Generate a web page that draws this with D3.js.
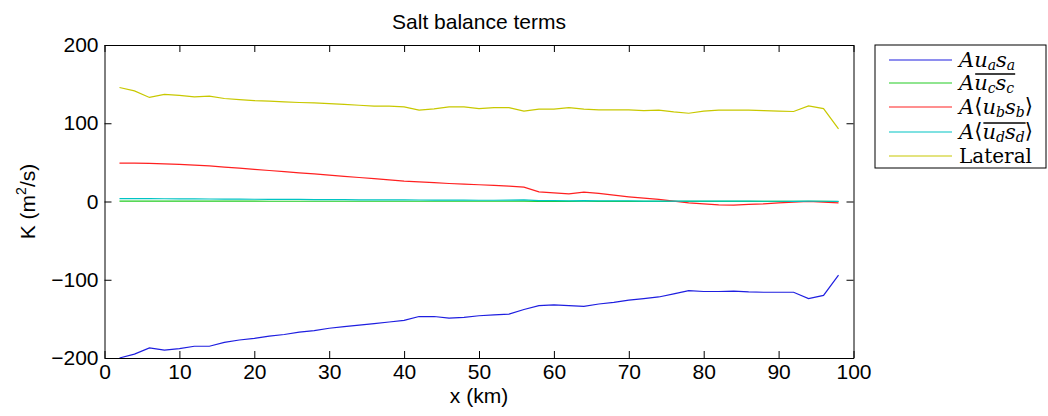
<!DOCTYPE html>
<html>
<head>
<meta charset="utf-8">
<script src="https://cdn.jsdelivr.net/npm/d3@7"></script>
<style>
  body { margin: 0; background: #fff; }
  svg { display: block; font-family: "Liberation Sans", Arial, sans-serif; }
</style>
</head>
<body>
<div id="chart"></div>
<script>
// x positions along the estuary (km)
const xKm = [2, 4, 6, 8, 10, 12, 14, 16, 18, 20, 22, 24, 26, 28, 30, 32, 34, 36, 38, 40,
  42, 44, 46, 48, 50, 52, 54, 56, 58, 60, 62, 64, 66, 68, 70, 72, 74, 76, 78, 80,
  82, 84, 86, 88, 90, 92, 94, 96, 98];

const uaSa = [-200, -195, -187, -190, -188, -185, -185, -180, -177, -175, -172, -170, -167, -165, -162, -160, -158, -156, -154, -152,
  -147, -147, -149, -148, -146, -145, -144, -138, -133, -132, -133, -134, -131, -129, -126, -124, -122, -118, -114, -115,
  -115, -114.5, -115.5, -116, -116, -116, -124, -120, -94];

const ucSc = [0.5, 0.5, 0.5, 0.5, 0.5, 0.4, 0.4, 0.4, 0.4, 0.4, 0.3, 0.3, 0.3, 0.3, 0.3, 0.3, 0.3, 0.3, 0.3, 0.3,
  0.3, 0.3, 0.3, 0.3, 0.3, 0.3, 0.3, 0.4, 0.2, 0.2, 0.2, 0.3, 0.2, 0.2, 0.2, 0.2, 0.2, 0.2, 0.1, 0.1,
  0.1, 0.1, 0.1, 0.1, 0.1, 0.1, 0.2, 0.1, 0];

const ubSb = [49, 49, 48.6, 48, 47.4, 46.4, 45.4, 44, 42.6, 41, 39.6, 38.2, 36.7, 35.2, 33.8, 32.2, 30.7, 29.2, 27.6, 26,
  25, 24, 23, 22.2, 21.4, 20.5, 19.7, 18.4, 12.4, 11.1, 9.8, 12, 10.3, 8.1, 6, 4.3, 2.6, 0.4, -1.7, -3,
  -4.3, -4.7, -3.8, -3, -1.7, -0.9, 0, -0.9, -1.7];

const udSd = [3.8, 3.7, 3.6, 3.5, 3.4, 3.3, 3.2, 3.1, 3.0, 2.9, 2.8, 2.7, 2.6, 2.5, 2.4, 2.3, 2.2, 2.1, 2.0, 2.0,
  1.9, 1.8, 1.8, 1.7, 1.6, 1.6, 1.8, 2.0, 1.2, 1.0, 0.8, 1.2, 0.9, 0.8, 0.7, 0.6, 0.5, 0.5, 0.4, 0.6,
  0.6, 0.5, 0.4, 0.3, 0.3, 0.2, 0.6, 0.3, 0.1];

const lateral = [145.7, 141.4, 133, 136.8, 135.5, 133.8, 134.6, 131.6, 130.3, 129, 128.2, 127.3, 126.5, 126, 125.2, 124, 123, 121.8, 121.8, 121,
  116.7, 118.4, 121, 121, 118.8, 120, 120, 115.4, 118, 118, 120, 118, 117, 117, 117, 116.2, 116.7, 114.5, 112.8, 115.4,
  116.7, 116.7, 116.7, 116.2, 115.4, 115, 122.2, 118.8, 92.7];

const xTicks = [0, 10, 20, 30, 40, 50, 60, 70, 80, 90, 100];
const yTicks = [-200, -100, 0, 100, 200];

const seriesValues = [uaSa, ucSc, ubSb, udSd, lateral];
const seriesColors = ["#1e1ee0", "#22cc22", "#ff2020", "#00c4c4", "#c8c800"];

// legend labels: pieces of math text; sub = subscript, ol = under the overline
const legendLabels = [
  [{ t: "Au" }, { t: "a", sub: true }, { t: "s" }, { t: "a", sub: true }],
  [{ t: "A" }, { t: "u", ol: true }, { t: "c", sub: true, ol: true }, { t: "s", ol: true }, { t: "c", sub: true, ol: true }],
  [{ t: "A" }, { t: "\u27e8", up: true }, { t: "u" }, { t: "b", sub: true }, { t: "s" }, { t: "b", sub: true }, { t: "\u27e9", up: true }],
  [{ t: "A" }, { t: "\u27e8", up: true }, { t: "u", ol: true }, { t: "d", sub: true, ol: true }, { t: "s", ol: true }, { t: "d", sub: true, ol: true }, { t: "\u27e9", up: true }],
  [{ t: "Lateral", roman: true }]
];

const width = 1048, height = 416;
const plot = { left: 104.5, right: 853.5, top: 45, bottom: 358 };
const tickLen = 7;
const fontSize = "21px";

const svg = d3.select("#chart").append("svg")
  .attr("width", width)
  .attr("height", height);

const x = d3.scaleLinear().domain([0, 100]).range([plot.left, plot.right]);
const y = d3.scaleLinear().domain([-200, 200]).range([plot.bottom, plot.top]);

// lines first so the frame sits on top
const line = d3.line()
  .x((d, i) => x(xKm[i]))
  .y(d => y(d));

svg.append("g")
  .selectAll("path")
  .data(seriesValues)
  .enter()
  .append("path")
  .attr("fill", "none")
  .attr("stroke", (d, i) => seriesColors[i])
  .attr("stroke-width", 1.2)
  .attr("d", line);

// axes, ticks pointing inward on all four sides (matlab box on)
const bottomAxis = d3.axisBottom(x).tickValues(xTicks).tickSizeInner(-tickLen).tickSizeOuter(0).tickPadding(6);
const topAxis = d3.axisTop(x).tickValues(xTicks).tickSizeInner(-tickLen).tickSizeOuter(0).tickFormat("");
const leftAxis = d3.axisLeft(y).tickValues(yTicks).tickSizeInner(-tickLen).tickSizeOuter(0).tickPadding(6)
  .tickFormat(d => d < 0 ? "\u2212" + Math.abs(d) : d);
const rightAxis = d3.axisRight(y).tickValues(yTicks).tickSizeInner(-tickLen).tickSizeOuter(0).tickFormat("");

function styleAxis(g) {
  g.selectAll("path.domain").attr("stroke", "#000").attr("stroke-width", 1);
  g.selectAll("line").attr("stroke", "#000").attr("stroke-width", 1);
  g.selectAll("text").attr("fill", "#000").style("font-size", fontSize)
    .style("font-family", '"Liberation Sans", Arial, sans-serif');
}

svg.append("g").attr("transform", `translate(0, ${plot.bottom})`).call(bottomAxis).call(styleAxis);
svg.append("g").attr("transform", `translate(0, ${plot.top})`).call(topAxis).call(styleAxis);
svg.append("g").attr("transform", `translate(${plot.left}, 0)`).call(leftAxis).call(styleAxis);
svg.append("g").attr("transform", `translate(${plot.right}, 0)`).call(rightAxis).call(styleAxis);

// title and axis labels
svg.append("text")
  .attr("x", (plot.left + plot.right) / 2)
  .attr("y", 29)
  .attr("text-anchor", "middle")
  .style("font-size", fontSize)
  .text("Salt balance terms");

svg.append("text")
  .attr("x", (plot.left + plot.right) / 2)
  .attr("y", 403)
  .attr("text-anchor", "middle")
  .style("font-size", fontSize)
  .text("x (km)");

const yLab = svg.append("text")
  .attr("transform", `translate(35, ${(plot.top + plot.bottom) / 2}) rotate(-90)`)
  .attr("text-anchor", "middle")
  .style("font-size", fontSize);
yLab.append("tspan").text("K (m");
yLab.append("tspan").attr("dy", -9).style("font-size", "14px").text("2");
yLab.append("tspan").attr("dy", 9).text("/s)");

// legend
const legendBox = { x: 875, y: 45, w: 171, h: 123 };
const legendRows = [60, 83, 107, 132, 156];
const legendFont = '"DejaVu Serif", "Liberation Serif", serif';
const textX = 959;

svg.append("rect")
  .attr("x", legendBox.x)
  .attr("y", legendBox.y)
  .attr("width", legendBox.w)
  .attr("height", legendBox.h)
  .attr("fill", "#fff")
  .attr("stroke", "#000")
  .attr("stroke-width", 1);

const legend = svg.append("g").attr("class", "legend");

legendLabels.forEach((pieces, i) => {
  const ly = legendRows[i];
  const base = ly + 7;
  legend.append("line")
    .attr("x1", 889).attr("x2", 952)
    .attr("y1", ly).attr("y2", ly)
    .attr("stroke", seriesColors[i])
    .attr("stroke-width", 1.2);

  const t = legend.append("text")
    .attr("x", textX)
    .attr("y", base)
    .style("font-family", legendFont)
    .style("font-size", pieces[0].roman ? "20px" : "21px");

  let shift = 0;
  let charIdx = 0;
  let olStart = -1, olEnd = -1;
  pieces.forEach(p => {
    const want = p.sub ? 3 : (p.up ? -1 : 0);
    const dy = want - shift;
    shift = want;
    t.append("tspan")
      .attr("dy", dy || null)
      .style("font-style", p.roman || p.up ? "normal" : "italic")
      .style("font-size", p.sub ? "14px" : null)
      .text(p.t);
    if (p.ol) {
      if (olStart < 0) olStart = charIdx;
      olEnd = charIdx + p.t.length - 1;
    }
    charIdx += p.t.length;
  });

  if (olStart >= 0) {
    const node = t.node();
    const x1 = node.getStartPositionOfChar(olStart).x;
    const x2 = node.getEndPositionOfChar(olEnd).x;
    legend.append("line")
      .attr("x1", x1 + 1).attr("x2", x2 + 1)
      .attr("y1", base - 16).attr("y2", base - 16)
      .attr("stroke", "#000")
      .attr("stroke-width", 1.4);
  }
});
</script>
</body>
</html>
